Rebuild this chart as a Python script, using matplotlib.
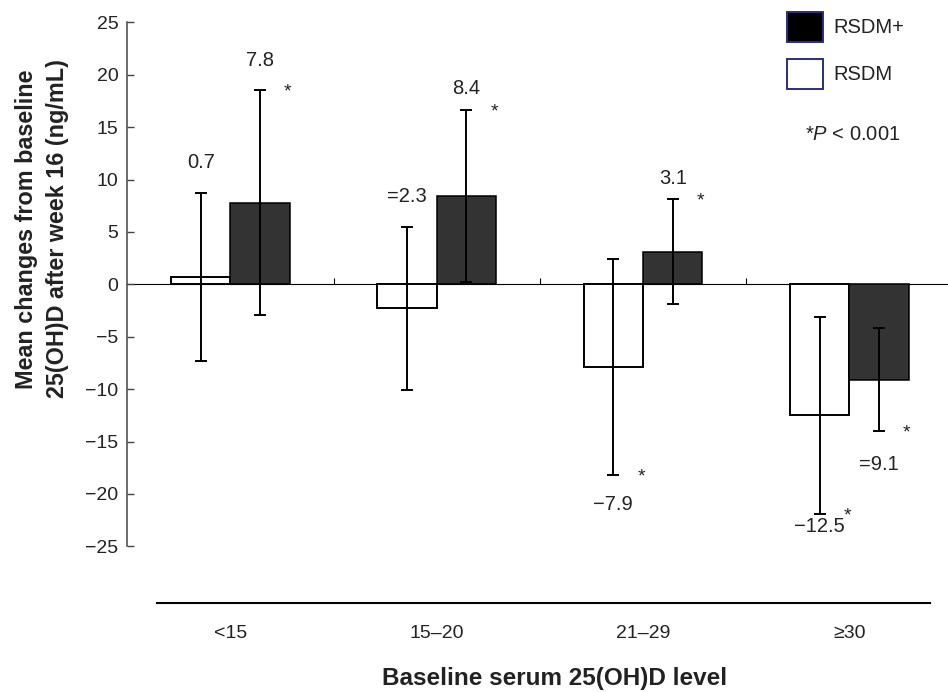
import matplotlib
matplotlib.use('Agg')
import matplotlib.pyplot as plt
import numpy as np
from matplotlib.patches import Patch

plt.rcParams['font.family'] = ['Liberation Sans', 'DejaVu Sans']
plt.rcParams['mathtext.fontset'] = 'custom'
plt.rcParams['mathtext.it'] = 'Liberation Sans:italic'
plt.rcParams['mathtext.rm'] = 'Liberation Sans'

# ---- data ----
categories = ['<15', '15–20', '21–29', '≥30']
rsdm_mean = [0.7, -2.3, -7.9, -12.5]
rsdm_err = [8.0, 7.8, 10.3, 9.4]
rsdmp_mean = [7.8, 8.4, 3.1, -9.1]
rsdmp_err = [10.7, 8.2, 5.0, 4.9]
rsdm_labels = ['0.7', '=2.3', '−7.9', '−12.5']
rsdmp_labels = ['7.8', '8.4', '3.1', '=9.1']
rsdm_sig = [False, False, True, True]
rsdmp_sig = [True, True, True, True]
yticks = [25, 20, 15, 10, 5, 0, -5, -10, -15, -20, -25]

# ---- style / placement (points) ----
rsdm_label_off = [23.5, 22.8, -20, -8]
rsdmp_label_off = [23, 17.3, 16.5, -23]

W, H = 948, 692
fig = plt.figure(figsize=(W / 100, H / 100), dpi=100)
ax = fig.add_axes([127.3 / W, (H - 603) / H, (948 - 127.3) / W, (603 - 22.3) / H])

pos = np.arange(len(categories))
w = 0.288
txt = '#222222'

ax.bar(pos - w / 2, rsdm_mean, w, facecolor='white', edgecolor='black', linewidth=1.4, zorder=2)
ax.bar(pos + w / 2, rsdmp_mean, w, facecolor='#333333', edgecolor='black', linewidth=1.1, zorder=2)
ax.errorbar(pos - w / 2, rsdm_mean, yerr=rsdm_err, fmt='none', ecolor='black',
            elinewidth=1.4, capsize=4.3, capthick=1.4, zorder=4)
ax.errorbar(pos + w / 2, rsdmp_mean, yerr=rsdmp_err, fmt='none', ecolor='black',
            elinewidth=1.4, capsize=4.3, capthick=1.4, zorder=4)

ax.axhline(0, color='black', lw=0.8, zorder=1.5)
ax.vlines(pos[:-1] + 0.5, 0, 0.6, color='black', lw=0.8, zorder=1.5)


def annotate(xs, means, errs, labels, offs, sigs):
    for x, m, e, lab, off, s in zip(xs, means, errs, labels, offs, sigs):
        cap = m + e if off > 0 else m - e
        ax.annotate(lab, xy=(x, cap), xytext=(0, off), textcoords='offset points',
                    ha='center', va='center_baseline', fontsize=14.5, color=txt)
        if s:
            star_cap = m + e if m > 0 else m - e
            ax.annotate('*', xy=(x, star_cap), xytext=(20, -4.5), textcoords='offset points',
                        ha='center', va='baseline', fontsize=14, color=txt)


annotate(pos - w / 2, rsdm_mean, rsdm_err, rsdm_labels, rsdm_label_off, rsdm_sig)
annotate(pos + w / 2, rsdmp_mean, rsdmp_err, rsdmp_labels, rsdmp_label_off, rsdmp_sig)

ax.set_xlim(-0.5, -0.5 + (948 - 127.3) / 206.3)
ax.set_ylim(-30.41, 25)

for sp in ['top', 'right']:
    ax.spines[sp].set_visible(False)
ax.spines['left'].set_bounds(-25, 25)
ax.spines['left'].set_color('#444444')
ax.spines['left'].set_linewidth(1.1)
ax.spines['bottom'].set_bounds((157 - 230.5) / 206.3, (930 - 230.5) / 206.3)
ax.spines['bottom'].set_linewidth(1.5)
ax.spines['bottom'].set_color('black')

ax.set_yticks(yticks)
ax.tick_params(axis='y', direction='in', length=5, width=1, color='#444444', pad=6.5,
               labelsize=14, labelcolor=txt)
ax.set_xticks(pos, categories)
ax.tick_params(axis='x', length=0, pad=16, labelsize=14, labelcolor=txt)

ax.set_ylabel('Mean changes from baseline\n25(OH)D after week 16 (ng/mL)',
              fontweight='bold', fontsize=16.8, linespacing=1.4, color=txt)
ax.yaxis.set_label_coords(-0.104, 0.644)
ax.yaxis.label.set_va('center')
ax.set_xlabel('Baseline serum 25(OH)D level', fontweight='bold', fontsize=17.5, color=txt)
ax.xaxis.set_label_coords(0.521, -0.1257)
ax.xaxis.label.set_va('center_baseline')

handles = [Patch(facecolor='black', edgecolor='#2b2d80', linewidth=1.4, label='RSDM+'),
           Patch(facecolor='white', edgecolor='#2b2d80', linewidth=1.4, label='RSDM')]
fig.legend(handles=handles, loc='upper left', bbox_to_anchor=(787 / W, 1 - 12 / H),
           frameon=False, borderpad=0, borderaxespad=0, handlelength=1.79,
           handleheight=1.9, handletextpad=0.5, labelspacing=0.85, fontsize=14.5,
           labelcolor=txt)
fig.text(805 / W, 1 - 133 / H, '*$P$ < 0.001', ha='left', va='center_baseline',
         fontsize=14.5, color=txt)

fig.savefig('out.png', dpi=100)
